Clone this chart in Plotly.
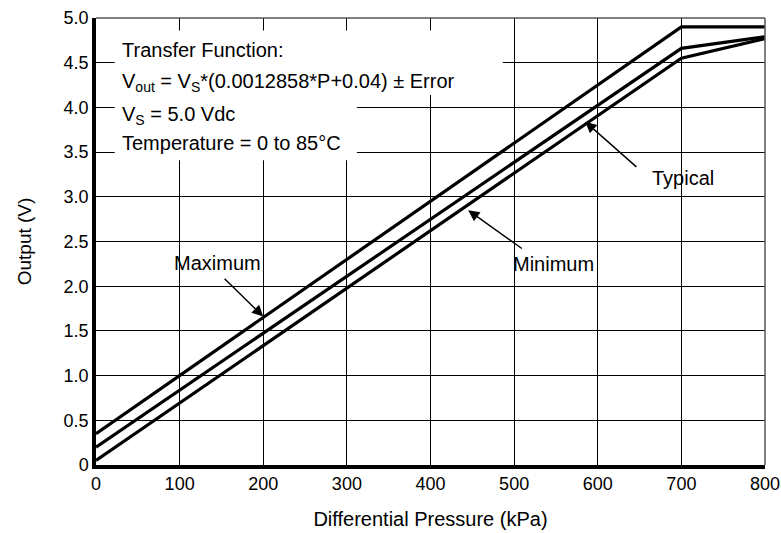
import plotly.graph_objects as go

# Data
pressure_kpa = [0, 700, 800]
maximum_v = [0.35, 4.90, 4.90]
typical_v = [0.20, 4.66, 4.79]
minimum_v = [0.05, 4.55, 4.77]

x_ticks = [0, 100, 200, 300, 400, 500, 600, 700, 800]
y_ticks = [0, 0.5, 1.0, 1.5, 2.0, 2.5, 3.0, 3.5, 4.0, 4.5, 5.0]
y_tick_text = ["0", "0.5", "1.0", "1.5", "2.0", "2.5", "3.0", "3.5", "4.0", "4.5", "5.0"]

FONT = "Liberation Sans, Arial, sans-serif"

fig = go.Figure()
for name, vals in [("Maximum", maximum_v), ("Typical", typical_v), ("Minimum", minimum_v)]:
    fig.add_trace(go.Scatter(x=pressure_kpa, y=vals, mode="lines", name=name,
                             line=dict(color="black", width=3.2), showlegend=False,
                             cliponaxis=False))

fig.update_layout(
    width=781, height=533,
    margin=dict(l=96, r=16, t=18, b=68, autoexpand=False),
    paper_bgcolor="white", plot_bgcolor="white",
    font=dict(family=FONT, size=18, color="black"),
)
fig.update_xaxes(range=[0, 800], tickvals=x_ticks, ticktext=[str(v) for v in x_ticks],
                 showgrid=True, gridcolor="black", gridwidth=1,
                 showline=True, linecolor="black", linewidth=3.5,
                 ticks="inside", ticklen=6, tickcolor="black", zeroline=False,
                 automargin=False,
                 title=dict(text="Differential Pressure (kPa)", font=dict(size=20), standoff=20),
                 tickfont=dict(size=18))
fig.update_yaxes(range=[0, 5.0], tickvals=y_ticks, ticktext=y_tick_text,
                 showgrid=True, gridcolor="black", gridwidth=1,
                 showline=True, linecolor="black", linewidth=3.5,
                 ticks="inside", ticklen=6, tickcolor="black", zeroline=False,
                 automargin=False,
                 title=dict(text="Output (V)", font=dict(size=19), standoff=28),
                 tickfont=dict(size=18))

# thin top/right frame
fig.add_shape(type="line", xref="paper", yref="paper", x0=0, x1=1, y0=1, y1=1,
              line=dict(color="#555555", width=1.5), layer="above")
fig.add_shape(type="line", xref="paper", yref="paper", x0=1, x1=1, y0=0, y1=1,
              line=dict(color="#555555", width=1.5), layer="above")

# white boxes behind the transfer-function text (hide gridlines)
fig.add_shape(type="rect", xref="paper", yref="paper", x0=0.028, x1=0.608, y0=0.828, y1=0.972,
              fillcolor="white", line=dict(width=0), layer="above")
fig.add_shape(type="rect", xref="paper", yref="paper", x0=0.028, x1=0.39, y0=0.682, y1=0.830,
              fillcolor="white", line=dict(width=0), layer="above")

info_lines = [
    ("Transfer Function:", 0.928),
    ("V<sub>out</sub> = V<sub>S</sub>*(0.0012858*P+0.04) ± Error", 0.855),
    ("V<sub>S</sub> = 5.0 Vdc", 0.782),
    ("Temperature = 0 to 85°C", 0.721),
]
for txt, yy in info_lines:
    fig.add_annotation(text=txt, xref="paper", yref="paper", x=0.036, y=yy,
                       xanchor="left", yanchor="middle", showarrow=False,
                       font=dict(family=FONT, size=20, color="black"))

# labels with arrows
labels = [
    ("Maximum", 145, 2.26, 200, 1.66, 152, 2.10),
    ("Minimum", 547, 2.25, 445, 2.85, 511, 2.41),
    ("Typical", 702, 3.21, 585, 3.84, 648, 3.32),
]
for txt, tx, ty, hx, hy, axv, ayv in labels:
    fig.add_annotation(text=txt, x=tx, y=ty, xref="x", yref="y", showarrow=False,
                       font=dict(family=FONT, size=20, color="black"))
    fig.add_annotation(text="", x=hx, y=hy, ax=axv, ay=ayv, xref="x", yref="y",
                       axref="x", ayref="y", showarrow=True, arrowhead=2,
                       arrowsize=1.6, arrowwidth=1.4, arrowcolor="black")

fig.write_html("out.html", config={"displayModeBar": False},
               post_script="document.body.style.margin='0';")
